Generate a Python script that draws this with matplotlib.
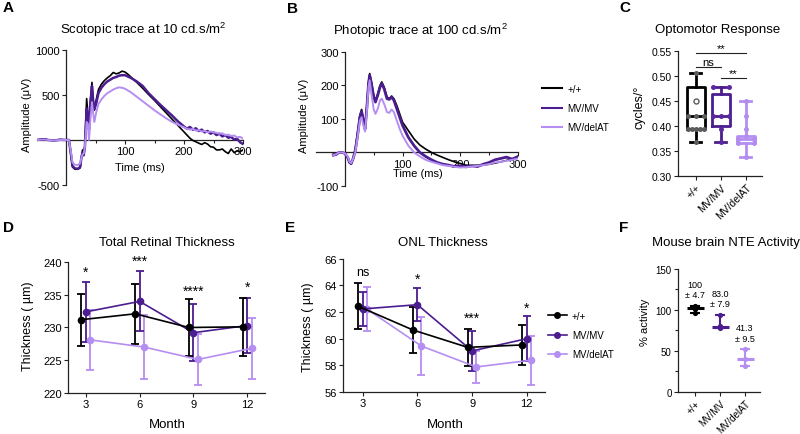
import matplotlib
matplotlib.use("Agg")
import matplotlib.pyplot as plt
from matplotlib.lines import Line2D
import numpy as np

plt.rcParams['font.family'] = ['Liberation Sans', 'DejaVu Sans']
plt.rcParams['mathtext.default'] = 'regular'
plt.rcParams['axes.unicode_minus'] = False

BLACK = '#000000'
MV = '#4B1D8F'
DEL = '#B58EF2'
colors = [BLACK, MV, DEL]
groups = ['+/+', 'MV/MV', 'MV/delAT']

# ---- A: scotopic ERG trace ----
t_a = [-50, -40, -35, -30, -20, -10, 0, 5, 8, 11,
       15, 20, 24, 26, 28, 30, 32, 35, 37, 39,
       41, 44, 46, 48, 51, 55, 60, 65, 70, 75,
       80, 85, 90, 95, 100, 105, 110, 115, 120, 130,
       140, 150, 160, 170, 180, 190, 200, 205, 210, 215,
       220, 225, 230, 235, 240, 245, 250, 255, 260, 265,
       270, 275, 280, 285, 290, 295, 300]
sco_wt = [0, 10, 12, 0, -5, 5, 0, 0, -150, -300,
          -325, -325, -310, -200, -110, -160, -60, 460, 300, 150,
          400, 640, 450, 330, 440, 560, 620, 660, 690, 715,
          750, 735, 745, 765, 755, 730, 700, 670, 640, 575,
          505, 440, 370, 300, 230, 160, 90, 55, 20, -5,
          -20, -35, -50, -30, -45, -75, -80, -110, -110, -100,
          -130, -150, -100, -140, -120, -130, -110]
sco_mv = [0, 8, 5, 0, -5, 3, 0, 0, -140, -290,
          -315, -320, -300, -200, -140, -170, -80, 350, 250, 120,
          380, 600, 440, 340, 400, 520, 580, 620, 650, 670,
          690, 700, 715, 720, 720, 705, 690, 670, 650, 600,
          520, 455, 390, 330, 270, 205, 150, 125, 145, 115,
          130, 100, 115, 85, 100, 70, 85, 55, 70, 40,
          55, 25, 35, 5, 15, -25, -45]
sco_del = [0, 5, 5, 0, -5, 0, 0, 0, -120, -250,
           -275, -278, -260, -200, -160, -150, -80, 200, 180, 0,
           200, 420, 300, 200, 300, 400, 450, 490, 520, 540,
           560, 575, 585, 580, 570, 550, 530, 505, 480, 430,
           380, 330, 285, 240, 200, 170, 140, 125, 115, 125,
           105, 110, 95, 100, 85, 95, 85, 80, 70, 75,
           55, 60, 45, 50, 30, 35, 15]

# ---- B: photopic ERG trace ----
t_b = [-20, -15, -10, -5, 0, 5, 8, 11, 14, 18,
       22, 26, 29, 32, 35, 38, 41, 43, 46, 50,
       53, 57, 61, 64, 68, 73, 77, 81, 85, 90,
       95, 100, 110, 120, 130, 140, 150, 160, 170, 180,
       190, 200, 210, 220, 230, 240, 250, 260, 270, 280,
       290, 300]
pho_wt = [-5, -5, 0, 0, -3, -15, -30, -35, -20, 10,
          60, 110, 128, 100, 75, 140, 210, 235, 210, 170,
          155, 175, 200, 210, 195, 165, 160, 168, 160, 140,
          115, 90, 65, 40, 22, 10, 0, -8, -15, -22,
          -28, -33, -38, -39, -38, -38, -35, -32, -28, -24,
          -19, -14]
pho_mv = [-8, -6, 0, 0, -3, -15, -30, -33, -20, 5,
          50, 105, 122, 95, 70, 130, 205, 230, 205, 165,
          150, 170, 195, 205, 190, 160, 158, 165, 155, 130,
          105, 80, 45, 20, 0, -12, -22, -30, -35, -38,
          -42, -40, -43, -40, -42, -35, -30, -22, -18, -14,
          -20, -12]
pho_del = [-8, -5, 0, 0, -3, -12, -28, -32, -20, 0,
           45, 95, 105, 80, 62, 120, 195, 215, 175, 128,
           115, 130, 155, 160, 145, 120, 118, 128, 120, 95,
           70, 50, 20, 0, -12, -22, -28, -33, -38, -40,
           -43, -45, -44, -42, -40, -38, -35, -30, -28, -25,
           -22, -18]

# ---- C: optomotor response ----
opt_q1 = [0.393, 0.400, 0.365]
opt_med = [0.420, 0.420, 0.373]
opt_q3 = [0.477, 0.463, 0.380]
opt_lo = [0.367, 0.367, 0.338]
opt_hi = [0.505, 0.478, 0.450]
opt_wt = [0.505, 0.42, 0.42, 0.42, 0.393, 0.393, 0.393, 0.393, 0.393, 0.367]
opt_mv = [0.478, 0.478, 0.42, 0.42, 0.42, 0.393, 0.367]
opt_del = [0.45, 0.42, 0.393, 0.38, 0.373, 0.373, 0.365, 0.365, 0.338]
opt_open = [0.45]
opt_sig_pairs = [(0, 2), (0, 1), (1, 2)]
opt_sig_y = [0.546, 0.517, 0.495]
opt_sig_txt = ['**', 'ns', '**']

# ---- D / E: thickness over months ----
months = [3, 6, 9, 12]
tot_wt = [231.2, 232.1, 230.0, 230.1]
tot_wt_sd = [4.0, 4.6, 4.3, 4.5]
tot_mv = [232.4, 234.0, 229.2, 230.3]
tot_mv_sd = [4.6, 4.6, 4.4, 4.2]
tot_del = [228.1, 227.0, 225.1, 226.8]
tot_del_sd = [4.6, 4.9, 3.9, 4.7]
tot_sig = ['*', '***', '****', '*']
tot_sig_y = [239.2, 240.8, 236.3, 236.8]

onl_wt = [62.43, 60.65, 59.35, 59.53]
onl_wt_sd = [1.72, 1.70, 1.40, 1.50]
onl_mv = [62.23, 62.55, 59.08, 60.0]
onl_mv_sd = [1.30, 1.22, 1.53, 1.67]
onl_del = [62.23, 59.45, 57.88, 58.38]
onl_del_sd = [1.62, 2.14, 1.20, 1.83]
onl_sig = ['ns', '*', '***', '*']
onl_sig_y = [65.05, 64.8, 61.85, 62.6]

# ---- F: NTE activity ----
nte_wt = [105, 103, 101, 96]
nte_mv = [94, 80, 79, 78]
nte_del = [52, 40, 32]
nte_mean = ['100', '83.0', '41.3']
nte_sd = ['4.7', '7.9', '9.5']

W, H = 800, 435
fig = plt.figure(figsize=(8, 4.35), dpi=100)


def px_axes(l, t, r, b):
    return fig.add_axes([l / W, 1 - b / H, (r - l) / W, (b - t) / H])


def ftext(x, y, s, **kw):
    fig.text(x / W, 1 - y / H, s, **kw)


def style(ax, fs=8):
    for s in ['top', 'right']:
        ax.spines[s].set_visible(False)
    for s in ['left', 'bottom']:
        ax.spines[s].set_linewidth(0.9)
        ax.spines[s].set_color('#222222')
    ax.tick_params(labelsize=fs, length=3, width=0.8, pad=1.5, color='#222222')
    ax.tick_params(which='minor', length=2.5, width=0.8, color='#222222')


def trace_axes(ax, t, series, widths, ylim, yticks):
    for y, c, lw in zip(series, colors, widths):
        ax.plot(t, y, color=c, lw=lw, zorder=3)
    ax.set_xlim(-50, 300)
    ax.set_ylim(*ylim)
    ax.spines['left'].set_position(('data', 0))
    ax.spines['bottom'].set_position(('data', 0))
    ax.set_xticks([100, 200, 300])
    ax.set_xticks([50, 150, 250], minor=True)
    ax.set_yticks(yticks)
    style(ax)


# A
axA = px_axes(36.5, 51, 243, 186)
trace_axes(axA, t_a, [sco_wt, sco_mv, sco_del], [1.2, 1.8, 1.4], (-500, 1000), [-500, 500, 1000])
ftext(143, 30, 'Scotopic trace at 10 cd.s/m$^{2}$', ha='center', va='center', fontsize=9.5)
ftext(140, 168, 'Time (ms)', ha='center', va='center', fontsize=8)
ftext(27, 115, 'Amplitude (\u03bcV)', ha='center', va='center', rotation=90, fontsize=8)

# B
axB = px_axes(316, 52.7, 518, 187)
trace_axes(axB, t_b, [pho_wt, pho_mv, pho_del], [1.2, 2.0, 1.4], (-100, 300), [-100, 100, 200, 300])
ftext(420, 31, 'Photopic trace at 100 cd.s/m$^{2}$', ha='center', va='center', fontsize=9.5)
ftext(418, 174, 'Time (ms)', ha='center', va='center', fontsize=8)
ftext(304, 116, 'Amplitude (\u03bcV)', ha='center', va='center', rotation=90, fontsize=8)

fig.legend(handles=[Line2D([], [], color=c, lw=1.5) for c in colors], labels=groups,
           loc='center left', bbox_to_anchor=(542 / W, 1 - 109 / H), frameon=False, fontsize=7,
           handlelength=2.1, handletextpad=0.5, labelspacing=0.95, borderpad=0, borderaxespad=0)


def spread(vals, half):
    vals = np.asarray(vals)
    xs = np.zeros(len(vals))
    for v in np.unique(vals):
        idx = np.where(vals == v)[0]
        if len(idx) > 1:
            xs[idx] = np.linspace(-half, half, len(idx))
    return xs


# C
axC = px_axes(678, 51.7, 762, 176.7)
stats = [dict(med=m, q1=a, q3=b, whislo=lo, whishi=hi, fliers=[])
         for m, a, b, lo, hi in zip(opt_med, opt_q1, opt_q3, opt_lo, opt_hi)]
bp = axC.bxp(stats, positions=[0, 1, 2], widths=0.72, capwidths=0.45, showfliers=False)
for i, c in enumerate(colors):
    bp['boxes'][i].set(color=c, lw=2)
    bp['medians'][i].set(color=c, lw=2)
    for k in (2 * i, 2 * i + 1):
        bp['whiskers'][k].set(color=c, lw=2)
        bp['caps'][k].set(color=c, lw=2)
pt_colors = ['#5c5c5c', '#5B2A9F', '#B48CF0']
for i, (vals, c) in enumerate(zip([opt_wt, opt_mv, opt_del], pt_colors)):
    axC.scatter(i + spread(vals, 0.33), vals, s=13, color=c, zorder=3, linewidths=0)
axC.scatter(np.zeros(len(opt_open)), opt_open, s=13, facecolor='white', edgecolor='#5c5c5c',
            linewidths=1, zorder=3)
for (a, b), y, s in zip(opt_sig_pairs, opt_sig_y, opt_sig_txt):
    axC.plot([a, b], [y, y], color='#222222', lw=0.8, clip_on=False)
    axC.annotate(s, ((a + b) / 2, y), xytext=(0, 1.5), textcoords='offset points',
                 ha='center', va='baseline', fontsize=8, annotation_clip=False)
axC.set_xlim(-0.71, 2.65)
axC.set_ylim(0.30, 0.55)
axC.set_yticks([0.30, 0.35, 0.40, 0.45, 0.50, 0.55])
axC.set_yticklabels(['0.30', '0.35', '0.40', '0.45', '0.50', '0.55'])
axC.set_xticks([0, 1, 2])
axC.set_xticklabels(groups, rotation=45, ha='right', rotation_mode='anchor')
style(axC, fs=7.5)
ftext(718, 30, 'Optomotor Response', ha='center', va='center', fontsize=9.5)
ftext(640, 107, 'cycles/\u00b0', ha='center', va='center', rotation=90, fontsize=9)


def month_axes(ax, vals, sds, offsets, sig, sig_y, ylim, yticks):
    for v, sd, c, off in list(zip(vals, sds, colors, offsets))[::-1]:
        x = np.array(months) + off
        ax.errorbar(x, v, yerr=sd, color=c, lw=1.2, elinewidth=1.3, capsize=2.8, capthick=1.3,
                    marker='o', ms=4.5, zorder=3)
    for m, s, y in zip(months, sig, sig_y):
        fs = 9 if s == 'ns' else 10
        dy = -0.26 * fs if s == 'ns' else -0.58 * fs
        ax.annotate(s, (m, y), xytext=(0, dy), textcoords='offset points', ha='center',
                    va='baseline', fontsize=fs, annotation_clip=False)
    ax.set_xlim(2, 13)
    ax.set_ylim(*ylim)
    ax.set_xticks(months)
    ax.set_yticks(yticks)
    style(ax)


# D
axD = px_axes(68, 263.3, 265, 393.7)
month_axes(axD, [tot_wt, tot_mv, tot_del], [tot_wt_sd, tot_mv_sd, tot_del_sd], [-0.25, 0, 0.25],
           tot_sig, tot_sig_y, (220, 240), [220, 225, 230, 235, 240])
ftext(167, 243, 'Total Retinal Thickness', ha='center', va='center', fontsize=9.5)
ftext(167, 425, 'Month', ha='center', va='center', fontsize=9.5)
ftext(28, 326, 'Thickness ( \u00b5m)', ha='center', va='center', rotation=90, fontsize=9)

# E
axE = px_axes(343, 259.7, 545, 393)
month_axes(axE, [onl_wt, onl_mv, onl_del], [onl_wt_sd, onl_mv_sd, onl_del_sd], [-0.24, 0, 0.22],
           onl_sig, onl_sig_y, (56, 66), [56, 58, 60, 62, 64, 66])
axE.set_xlim(1.92, 13)
ftext(443, 243, 'ONL Thickness', ha='center', va='center', fontsize=9.5)
ftext(445, 425, 'Month', ha='center', va='center', fontsize=9.5)
ftext(308, 327, 'Thickness ( \u00b5m)', ha='center', va='center', rotation=90, fontsize=9)

fig.legend(handles=[Line2D([], [], color=c, lw=1.2, marker='o', ms=4) for c in colors], labels=groups,
           loc='center left', bbox_to_anchor=(548 / W, 1 - 336 / H), frameon=False, fontsize=7,
           handlelength=1.95, handletextpad=0.5, labelspacing=0.95, borderpad=0, borderaxespad=0)

# F
axF = px_axes(678, 270, 760, 392.7)
for i, (vals, c) in enumerate(zip([nte_wt, nte_mv, nte_del], colors)):
    lo, hi, med = min(vals), max(vals), np.median(vals)
    axF.vlines(i, lo, hi, color=c, lw=1.5)
    axF.hlines([lo, hi], i - 0.2, i + 0.2, color=c, lw=1.5)
    axF.hlines(med, i - 0.34, i + 0.34, color=c, lw=2.2)
    axF.scatter(np.full(len(vals), i), vals, s=14, color=c, zorder=3, linewidths=0)
    axF.text(i, hi + 20, nte_mean[i] + '\n\u00b1 ' + nte_sd[i], ha='center', va='center',
             fontsize=6.5, linespacing=1.2)
axF.set_xlim(-0.68, 2.6)
axF.set_ylim(0, 150)
axF.set_yticks([0, 50, 100, 150])
axF.set_yticks([25, 75, 125], minor=True)
axF.set_xticks([0, 1, 2])
axF.set_xticklabels(groups, rotation=45, ha='right', rotation_mode='anchor')
style(axF, fs=7)
ftext(726, 243, 'Mouse brain NTE Activity', ha='center', va='center', fontsize=9.5)
ftext(645, 322, '% activity', ha='center', va='center', rotation=90, fontsize=8)

# panel letters
for (x, y), s in zip([(8, 8), (292, 9), (625, 8), (8, 228), (290, 228), (624, 228)], 'ABCDEF'):
    ftext(x, y, s, ha='center', va='center', fontsize=11, fontweight='bold')

fig.savefig('out.png', dpi=100)
